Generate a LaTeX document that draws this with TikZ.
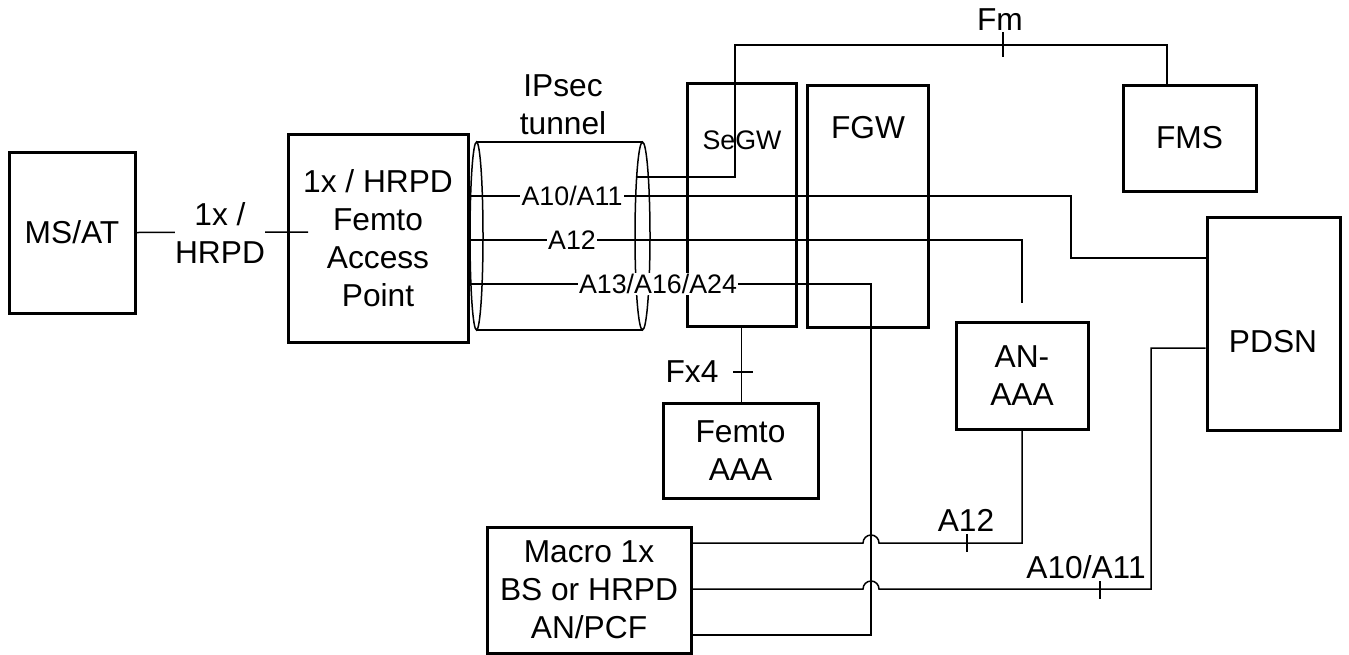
\documentclass[tikz,border=0pt]{standalone}
\usepackage{fontspec}
\setmainfont{Liberation Sans}
\usetikzlibrary{positioning,calc}
\newcommand\mainsz{\fontsize{31.7}{38}\selectfont}
\newcommand\smallsz{\fontsize{26.8}{30}\selectfont}
\begin{document}
\begin{tikzpicture}[
  x=1pt,y=-1pt,
  every node/.style={font=\mainsz},
  box/.style={draw,line width=3pt,align=center,inner sep=0pt},
  link/.style={line width=1.5pt},
  lbl/.style={fill=white,inner sep=1.5pt,font=\smallsz},
  tag/.style={inner sep=0pt,align=center}
]
  \useasboundingbox (0,0) rectangle (1349,654);

  % Knoten
  \node[box,minimum width=126pt,minimum height=161pt] (msat) at (72,232.5) {MS/AT};
  \node[box,minimum width=180pt,minimum height=208pt] (femtoap) at (378,238)
    {1x / HRPD\\Femto\\Access\\Point};
  \node[box,minimum width=109pt,minimum height=243pt] (segw) at (741.5,204.5) {};
  \node[box,minimum width=121pt,minimum height=242pt] (fgw) at (867.5,206) {};
  \node[box,minimum width=133pt,minimum height=106pt] (fms) at (1189.5,138) {FMS};
  \node[box,minimum width=133pt,minimum height=213pt] (pdsn) at (1273.5,323.5) {};
  \node[box,minimum width=132pt,minimum height=107pt] (anaaa) at (1022,375.5) {AN-\\AAA};
  \node[box,minimum width=155pt,minimum height=95pt] (femtoaaa) at (740.5,450.5) {Femto\\AAA};
  \node[box,minimum width=204pt,minimum height=126pt] (macro) at (589,590)
    {Macro 1x\\BS or HRPD\\AN/PCF};

  % Beschriftung in den Kaesten
  \node[font=\smallsz] (segwtxt) at (742,140) {SeGW};
  \node (fgwtxt) at (868,128) {FGW};
  \node (pdsntxt) at (1273,342) {PDSN};

  % IPsec-Tunnel
  \node[tag] (tunneltxt) at (563,105) {IPsec\\tunnel};
  \draw[link] (476.5,236) ellipse [x radius=6.5pt,y radius=94pt];
  \draw[link] (642.5,236) ellipse [x radius=7.5pt,y radius=94pt];
  \draw[link] (476.5,142) -- (642.5,142);
  \draw[link] (476.5,330) -- (642.5,330);

  % MS/AT -- Femto AP
  \draw[link] (msat.east) -- (308,232);
  \node[fill=white,inner sep=3pt,tag] (airif) at (220,233) {1x /\\HRPD};

  % Schnittstellen durch den Tunnel
  \draw[link] (femtoap.east |- 0,196) -- (572,196) node[lbl] {A10/A11}
    -- (1071,196) -- (1071,258) -- (pdsn.west |- 0,258);
  \coordinate (a12end) at (1022,303);
  \draw[link] (femtoap.east |- 0,240) -- (572,240) node[lbl] {A12}
    -- (a12end |- 0,240) -- (a12end);
  \draw[link] (femtoap.east |- 0,284) -- (658,284) node[lbl] {A13/A16/A24}
    -- (871,284) -- (871,635) -- (macro.east |- 0,635);

  % Fm
  \coordinate (fmstart) at (636,177);
  \draw[link] (fmstart) -- (735,177) -- (735,45) -- (1167,45)
    -- (fms.north -| 1167,0);
  \draw[link] (1003,32) -- (1003,57);
  \node[tag] (fmtxt) at (1000,20) {Fm};

  % Fx4
  \draw[link] (segw.south) -- (segw.south |- femtoaaa.north);
  \draw[link] (733,372) -- (753,372);
  \node[tag] (fxtxt) at (692,372) {Fx4};

  % Macro -- AN-AAA / PDSN
  \draw[link] (macro.east |- 0,543) -- (863,543) arc (180:0:8pt)
    -- (anaaa.south |- 0,543) -- (anaaa.south);
  \draw[link] (967,534) -- (967,552);
  \node[tag] (a12txt) at (966,520) {A12};
  \draw[link] (macro.east |- 0,589) -- (863,589) arc (180:0:8pt)
    -- (1151,589) -- (1151,348) -- (pdsn.west |- 0,348);
  \draw[link] (1100,581) -- (1100,599);
  \node[tag] (a10txt) at (1086,567) {A10/A11};
\end{tikzpicture}
\end{document}
